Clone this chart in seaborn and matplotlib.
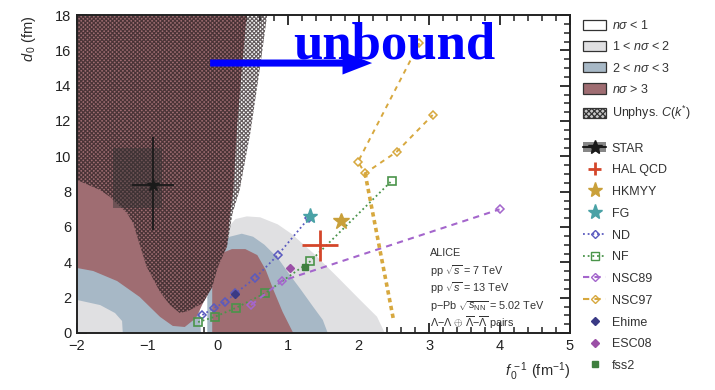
import matplotlib
matplotlib.use("Agg")
import matplotlib.pyplot as plt
import seaborn as sns
from matplotlib.patches import Patch
from matplotlib.lines import Line2D
from matplotlib.ticker import MultipleLocator

# ---------------- exclusion regions (f0^-1 [fm^-1], d0 [fm]) ----------------
light_left_x = [-2.0, -1.67, -1.46, -1.36, -1.35, -2.0]
light_left_y = [1.87, 1.58, 1.13, 0.68, 0.0, 0.0]

blue_left_x = [-2.0, -1.25, -0.82, -0.40, -0.27, -0.24, -2.0]
blue_left_y = [3.85, 3.0, 1.87, 1.30, 1.87, 0.0, 0.0]

mauve_main_x = [-2.0, 0.41, 0.34, 0.27, 0.22, 0.17, 0.13, 0.0, -0.08, -0.21,
                -0.31, -0.47, -0.64, -0.82, -1.11, -1.43, -1.77, -2.0]
mauve_main_y = [18.0, 18.0, 14.9, 11.5, 8.1, 6.6, 4.9, 3.74, 2.6, 1.70,
                0.85, 0.34, 0.40, 0.91, 2.04, 2.94, 3.51, 3.68]

light_r_x = [-0.11, -0.08, 0.0, 0.06, 0.14, 0.25, 0.41, 0.6, 0.85, 1.05,
             1.36, 1.69, 2.02, 2.26, 2.37]
light_r_y = [0.0, 2.43, 4.0, 4.98, 5.94, 6.45, 6.6, 6.55, 6.15, 5.6,
             4.5, 3.2, 1.87, 0.92, 0.0]

blue_r_x = [-0.15, -0.15, -0.08, 0.03, 0.17, 0.34, 0.50, 0.66, 0.85, 1.02,
            1.17, 1.35, 1.49, 1.56]
blue_r_y = [0.0, 2.43, 4.02, 4.98, 5.45, 5.62, 5.45, 5.0, 4.25, 3.3,
            2.5, 1.5, 0.74, 0.0]

mauve_r_x = [-0.08, -0.08, -0.04, 0.06, 0.20, 0.39, 0.56, 0.68, 0.79, 0.92, 1.07]
mauve_r_y = [0.0, 2.72, 4.02, 4.53, 4.75, 4.75, 4.41, 3.57, 2.43, 1.19, 0.0]

unphys_x = [-2.0, 0.70, 0.60, 0.46, 0.31, 0.21, 0.13, 0.0, -0.08, -0.21, -0.42,
            -0.54, -0.68, -0.82, -1.01, -1.13, -1.20, -1.29, -1.53, -1.67, -2.0]
unphys_y = [18.0, 18.0, 15.05, 11.3, 8.1, 6.8, 4.9, 3.74, 2.6, 1.70, 1.25,
            1.13, 1.58, 2.32, 3.74, 5.26, 6.2, 6.79, 7.7, 8.09, 8.66]

# ---------------- measurements / models ----------------
star_x, star_y = [-0.92], [8.38]
star_xerr = [0.30]
star_yerr = [[2.55], [2.71]]
star_sys_x = [-1.49, -0.80]
star_sys_y = [7.1, 10.45]

hal_x, hal_y = [1.45], [4.97]
hal_xerr, hal_yerr = [0.26], [0.87]

hkmyy_x, hkmyy_y = [1.75], [6.35]
fg_x, fg_y = [1.31], [6.6]

nd_x = [-0.22, -0.06, 0.10, 0.25, 0.53, 0.85, 1.29]
nd_y = [1.02, 1.40, 1.75, 2.25, 3.11, 4.41, 6.5]

nf_x = [-0.28, -0.04, 0.26, 0.67, 1.31, 2.47]
nf_y = [0.62, 0.92, 1.43, 2.25, 4.05, 8.62]

nsc89_x = [0.47, 0.91, 4.0]
nsc89_y = [1.58, 2.95, 7.0]

nsc97_x = [2.86, 1.99, 2.09, 2.54, 3.05]
nsc97_y = [16.4, 9.69, 9.04, 10.26, 12.34]
nsc97b_x = [2.09, 2.49]
nsc97b_y = [9.04, 0.83]

ehime_x, ehime_y = [0.25], [2.22]
esc08_x, esc08_y = [1.02], [3.66]
fss2_x, fss2_y = [1.24], [3.75]

region_labels = [r"$n\sigma$ < 1", r"1 < $n\sigma$ < 2", r"2 < $n\sigma$ < 3",
                 r"$n\sigma$ > 3", r"Unphys. $C(k^{*})$"]
alice_lines = ["ALICE", r"pp $\sqrt{s}$ = 7 TeV", r"pp $\sqrt{s}$ = 13 TeV",
               r"p$-$Pb $\sqrt{s_{\mathrm{NN}}}$ = 5.02 TeV",
               r"$\Lambda$$-$$\Lambda$ $\oplus$ $\overline{\Lambda}$$-$$\overline{\Lambda}$ pairs"]
alice_y = [4.55, 3.5, 2.55, 1.55, 0.6]

# ---------------- style ----------------
sns.set_theme(style="ticks")
plt.rcParams["font.family"] = ["Liberation Sans", "DejaVu Sans"]
plt.rcParams["mathtext.fontset"] = "custom"
plt.rcParams["mathtext.rm"] = "Liberation Sans"
plt.rcParams["mathtext.it"] = "Liberation Sans:italic"
plt.rcParams["mathtext.bf"] = "Liberation Sans:bold"
plt.rcParams["hatch.linewidth"] = 0.9

LIGHT = "#e0e0e2"
BLUE = "#a7b8c6"
MAUVE = "#9f6d72"
TXT = "#2a2a2a"

C_ND = "#5a5abf"
C_NF = "#4a944a"
C_N89 = "#a466cc"
C_N97 = "#d7a83e"
C_HK = "#c9a03a"
C_FG = "#4aa2a6"
C_HAL = "#d4462a"
C_EH = "#3a3a85"
C_ESC = "#9b4fa6"
C_FSS = "#3f7f3f"

fig = plt.figure(figsize=(7.15, 3.9), dpi=100)
ax = fig.add_axes([77 / 715, 1 - 333 / 390, 493 / 715, 318 / 390])

# regions
ax.fill(blue_left_x, blue_left_y, color=BLUE, lw=0, zorder=1)
ax.fill(light_left_x, light_left_y, color=LIGHT, lw=0, zorder=1.1)
ax.fill(light_r_x, light_r_y, color=LIGHT, lw=0, zorder=1.2)
ax.fill(blue_r_x, blue_r_y, color=BLUE, lw=0, zorder=1.3)
ax.fill(mauve_r_x, mauve_r_y, color=MAUVE, lw=0, zorder=1.4)
ax.fill(mauve_main_x, mauve_main_y, color=MAUVE, lw=0, zorder=1.5)
ax.fill(unphys_x, unphys_y, facecolor="none", edgecolor=(0.16, 0.12, 0.13, 0.72),
        hatch="xxxxxxxx", lw=0, zorder=1.6)

# STAR
ax.fill([star_sys_x[0], star_sys_x[1], star_sys_x[1], star_sys_x[0]],
        [star_sys_y[0], star_sys_y[0], star_sys_y[1], star_sys_y[1]],
        color="#333333", alpha=0.45, lw=0, zorder=2)
ax.errorbar(star_x, star_y, xerr=star_xerr, yerr=star_yerr, fmt="none",
            ecolor="#1a1a1a", elinewidth=1.3, zorder=5)
ax.plot(star_x, star_y, marker="*", ms=9, color="#1a1a1a", ls="none", zorder=5)

# model lines
sns.lineplot(x=nd_x, y=nd_y, sort=False, estimator=None, ax=ax, color=C_ND,
             linestyle=(0, (1, 1.6)), lw=1.3, marker="D", ms=4.5,
             markerfacecolor="none", markeredgecolor=C_ND, markeredgewidth=1.1, zorder=4)
sns.lineplot(x=nf_x, y=nf_y, sort=False, estimator=None, ax=ax, color=C_NF,
             linestyle=(0, (1, 1.6)), lw=1.3, marker="s", ms=6,
             markerfacecolor="none", markeredgecolor=C_NF, markeredgewidth=1.2, zorder=4)
sns.lineplot(x=nsc89_x, y=nsc89_y, sort=False, estimator=None, ax=ax, color=C_N89,
             linestyle=(0, (3, 2.5)), lw=1.5, marker="D", ms=4.5,
             markerfacecolor="none", markeredgecolor=C_N89, markeredgewidth=1.1, zorder=4)
sns.lineplot(x=nsc97b_x, y=nsc97b_y, sort=False, estimator=None, ax=ax, color=C_N97,
             linestyle=(0, (1.2, 1.0)), lw=2.6, zorder=4)
sns.lineplot(x=nsc97_x, y=nsc97_y, sort=False, estimator=None, ax=ax, color=C_N97,
             linestyle=(0, (2.5, 2.5)), lw=1.4, marker="D", ms=4.5,
             markerfacecolor="none", markeredgecolor=C_N97, markeredgewidth=1.1, zorder=4)

ax.plot(ehime_x, ehime_y, marker="D", ms=4, color=C_EH, ls="none", zorder=6)
ax.plot(esc08_x, esc08_y, marker="D", ms=4, color=C_ESC, ls="none", zorder=6)
ax.plot(fss2_x, fss2_y, marker="s", ms=4.5, color=C_FSS, ls="none", zorder=6)

hal = ax.errorbar(hal_x, hal_y, xerr=hal_xerr, yerr=hal_yerr, fmt="none",
                  ecolor=C_HAL, elinewidth=2.0, capsize=0, zorder=6)
ax.plot(hkmyy_x, hkmyy_y, marker="*", ms=12, color=C_HK, ls="none", zorder=6)
ax.plot(fg_x, fg_y, marker="*", ms=11, color=C_FG, ls="none", zorder=6)

# ALICE text
for s, yy in zip(alice_lines, alice_y):
    ax.text(3.01, yy, s, fontsize=7.8, color="#333333", va="center", ha="left", zorder=7)

# unbound annotation
ax.arrow(-0.11, 15.28, 2.30, 0.0, width=0.40, head_width=1.3, head_length=0.42,
         length_includes_head=True, color="blue", lw=0, zorder=8)
ax.text(2.50, 15.55, "unbound", fontsize=38, fontweight="bold", color="blue",
        family=["Liberation Serif", "DejaVu Serif"], ha="center", va="baseline", zorder=9)

# axes
ax.set_xlim(-2, 5)
ax.set_ylim(0, 18)
ax.xaxis.set_major_locator(MultipleLocator(1))
ax.xaxis.set_minor_locator(MultipleLocator(0.2))
ax.yaxis.set_major_locator(MultipleLocator(2))
ax.yaxis.set_minor_locator(MultipleLocator(0.5))
ax.tick_params(which="both", direction="in", top=True, right=True, colors="#222222",
               labelsize=10.5)
ax.tick_params(which="major", length=7, width=1.3, pad=4)
ax.tick_params(which="minor", length=4, width=1.1)
for sp in ax.spines.values():
    sp.set_linewidth(1.4)
    sp.set_color("#222222")
ax.set_ylabel(r"$d_{\,0}$ (fm)", loc="top", fontsize=10.5, color=TXT, labelpad=12)
ax.set_xlabel(r"$f_{\,0}^{\,-1}$ (fm$^{-1}$)", loc="right", fontsize=10.5, color=TXT, labelpad=6)

# legends
reg_handles = [
    Patch(facecolor="white", edgecolor="#333333", lw=0.9),
    Patch(facecolor=LIGHT, edgecolor="#333333", lw=0.9),
    Patch(facecolor=BLUE, edgecolor="#333333", lw=0.9),
    Patch(facecolor=MAUVE, edgecolor="#333333", lw=0.9),
    Patch(facecolor="#c8c8c8", edgecolor="#333333", hatch="xxxxxx", lw=0.9),
]
leg1 = fig.legend(reg_handles, region_labels, loc="upper left",
                  bbox_to_anchor=(583 / 715, 1 - 19 / 390), frameon=False,
                  fontsize=9, handlelength=1.85, handleheight=0.9, handletextpad=0.45,
                  labelspacing=0.66, borderpad=0, borderaxespad=0, labelcolor="#333333")

mod_handles = [
    (Patch(facecolor="#555555", alpha=0.7, edgecolor="none"),
     Line2D([], [], color="#1a1a1a", lw=1.5, marker="*", ms=10)),
    hal,
    Line2D([], [], ls="none", marker="*", ms=11, color=C_HK),
    Line2D([], [], ls="none", marker="*", ms=11, color=C_FG),
    Line2D([], [], color=C_ND, ls=(0, (1, 1.6)), lw=1.3, marker="D", ms=4.5,
           markerfacecolor="none", markeredgecolor=C_ND),
    Line2D([], [], color=C_NF, ls=(0, (1, 1.6)), lw=1.3, marker="s", ms=5.5,
           markerfacecolor="none", markeredgecolor=C_NF),
    Line2D([], [], color=C_N89, ls=(0, (3, 2.5)), lw=1.5, marker="D", ms=4.5,
           markerfacecolor="none", markeredgecolor=C_N89),
    Line2D([], [], color=C_N97, ls=(0, (3, 2.5)), lw=1.5, marker="D", ms=4.5,
           markerfacecolor="none", markeredgecolor=C_N97),
    Line2D([], [], ls="none", marker="D", ms=4, color=C_EH),
    Line2D([], [], ls="none", marker="D", ms=4, color=C_ESC),
    Line2D([], [], ls="none", marker="s", ms=4.5, color=C_FSS),
]
mod_labels = ["STAR", "HAL QCD", "HKMYY", "FG", "ND", "NF", "NSC89", "NSC97",
              "Ehime", "ESC08", "fss2"]
leg2 = fig.legend(mod_handles, mod_labels, loc="upper left",
                  bbox_to_anchor=(583 / 715, 1 - 142 / 390), frameon=False,
                  fontsize=9, handlelength=1.85, handleheight=0.9, handletextpad=0.45,
                  labelspacing=0.74, borderpad=0, borderaxespad=0, numpoints=1,
                  labelcolor="#333333")

fig.savefig("out.png", dpi=100)
